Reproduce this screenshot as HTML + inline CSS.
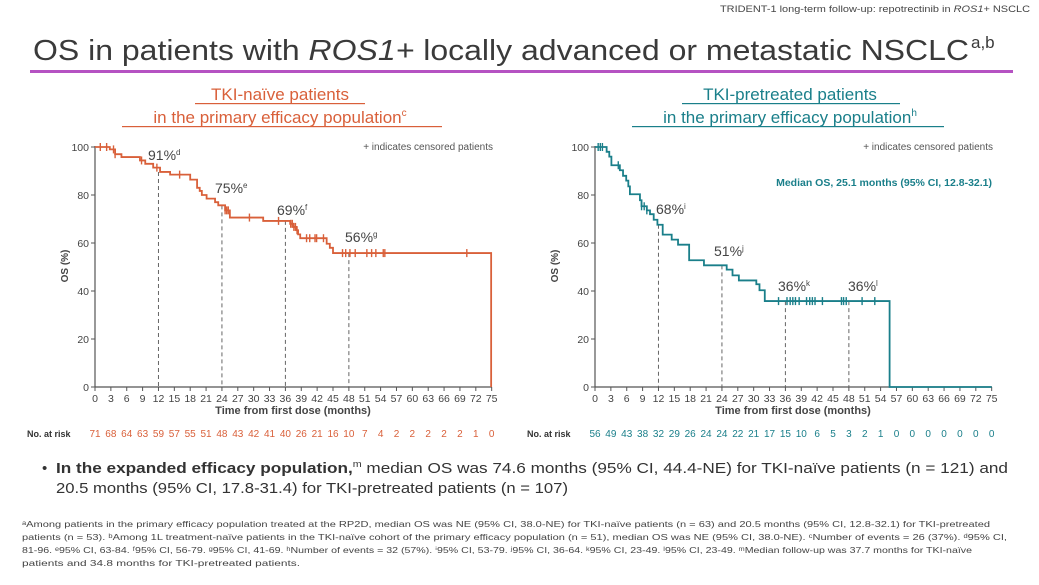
<!DOCTYPE html>
<html><head><meta charset="utf-8"><style>
html,body{margin:0;padding:0;background:#fff}
svg{display:block;font-family:"Liberation Sans","DejaVu Sans",sans-serif}
</style></head><body>
<svg width="1039" height="585" viewBox="0 0 1039 585" xmlns="http://www.w3.org/2000/svg">
<text x="1030" y="12" font-size="9" fill="#444" text-anchor="end" textLength="310" lengthAdjust="spacingAndGlyphs">TRIDENT-1 long-term follow-up: repotrectinib in <tspan font-style="italic">ROS1</tspan>+ NSCLC</text>
<text x="33" y="60" font-size="29" fill="#3a3a3a" textLength="936" lengthAdjust="spacingAndGlyphs">OS in patients with <tspan font-style="italic">ROS1+</tspan> locally advanced or metastatic NSCLC</text>
<text x="971" y="48" font-size="17" fill="#3a3a3a">a,b</text>
<rect x="30" y="70" width="983" height="3" fill="#b552c2"/>

<g fill="#d9603a" font-size="17" text-anchor="middle">
<text x="280" y="100">TKI-naïve patients</text>
<text x="280" y="123">in the primary efficacy population<tspan font-size="10" dy="-7">c</tspan></text>
</g>
<rect x="195" y="103" width="170" height="1.2" fill="#d9603a"/>
<rect x="122" y="126" width="320" height="1.2" fill="#d9603a"/>
<g fill="#1a7f8a" font-size="17" text-anchor="middle">
<text x="790" y="100">TKI-pretreated patients</text>
<text x="790" y="123">in the primary efficacy population<tspan font-size="10" dy="-7">h</tspan></text>
</g>
<rect x="682" y="103" width="218" height="1.2" fill="#1a7f8a"/>
<rect x="632" y="126" width="312" height="1.2" fill="#1a7f8a"/>

<!-- LEFT CHART -->
<g>
<line x1="95" y1="146" x2="95" y2="387" stroke="#555" stroke-width="1.2"/>
<line x1="95" y1="387" x2="492" y2="387" stroke="#555" stroke-width="1.2"/>
<g stroke="#555">
<line x1="91" y1="147" x2="95" y2="147"/><line x1="91" y1="195" x2="95" y2="195"/><line x1="91" y1="243" x2="95" y2="243"/><line x1="91" y1="291" x2="95" y2="291"/><line x1="91" y1="339" x2="95" y2="339"/><line x1="91" y1="387" x2="95" y2="387"/>
</g>
<g font-size="10.5" fill="#444" text-anchor="end">
<text x="89" y="151">100</text><text x="89" y="199">80</text><text x="89" y="247">60</text><text x="89" y="295">40</text><text x="89" y="343">20</text><text x="89" y="391">0</text>
</g>
<text transform="translate(68,266) rotate(-90)" font-size="10" fill="#444" text-anchor="middle" font-weight="bold">OS (%)</text>
<text x="293" y="414" font-size="11" fill="#444" text-anchor="middle" font-weight="bold">Time from first dose (months)</text>
<text x="493" y="150" font-size="10" fill="#555" text-anchor="end">+ indicates censored patients</text>
</g>

<!-- RIGHT CHART -->
<g>
<line x1="595" y1="146" x2="595" y2="387" stroke="#555" stroke-width="1.2"/>
<line x1="595" y1="387" x2="992" y2="387" stroke="#555" stroke-width="1.2"/>
<g stroke="#555">
<line x1="591" y1="147" x2="595" y2="147"/><line x1="591" y1="195" x2="595" y2="195"/><line x1="591" y1="243" x2="595" y2="243"/><line x1="591" y1="291" x2="595" y2="291"/><line x1="591" y1="339" x2="595" y2="339"/><line x1="591" y1="387" x2="595" y2="387"/>
</g>
<g font-size="10.5" fill="#444" text-anchor="end">
<text x="589" y="151">100</text><text x="589" y="199">80</text><text x="589" y="247">60</text><text x="589" y="295">40</text><text x="589" y="343">20</text><text x="589" y="391">0</text>
</g>
<text transform="translate(558,266) rotate(-90)" font-size="10" fill="#444" text-anchor="middle" font-weight="bold">OS (%)</text>
<text x="793" y="414" font-size="11" fill="#444" text-anchor="middle" font-weight="bold">Time from first dose (months)</text>
<text x="993" y="150" font-size="10" fill="#555" text-anchor="end">+ indicates censored patients</text>
<text x="992" y="186" font-size="10.5" fill="#1a7f8a" text-anchor="end" font-weight="bold">Median OS, 25.1 months (95% CI, 12.8-32.1)</text>
</g>

<g id="dyn"></g>

<g font-size="14" fill="#444">
<text x="148" y="160">91%<tspan font-size="8" dy="-5">d</tspan></text>
<text x="215" y="193">75%<tspan font-size="8" dy="-5">e</tspan></text>
<text x="277" y="215">69%<tspan font-size="8" dy="-5">f</tspan></text>
<text x="345" y="242">56%<tspan font-size="8" dy="-5">g</tspan></text>
<text x="656" y="214">68%<tspan font-size="8" dy="-5">i</tspan></text>
<text x="714" y="256">51%<tspan font-size="8" dy="-5">j</tspan></text>
<text x="778" y="291">36%<tspan font-size="8" dy="-5">k</tspan></text>
<text x="848" y="291">36%<tspan font-size="8" dy="-5">l</tspan></text>
</g>

<text x="27" y="437" font-size="9" fill="#333" font-weight="bold">No. at risk</text>
<text x="527" y="437" font-size="9" fill="#333" font-weight="bold">No. at risk</text>

<text x="42" y="473" font-size="15" fill="#333">•</text>
<text x="56" y="473" font-size="14.5" fill="#333" textLength="952" lengthAdjust="spacingAndGlyphs"><tspan font-weight="bold">In the expanded efficacy population,</tspan><tspan font-size="9" dy="-6">m</tspan><tspan dy="6"> median OS was 74.6 months (95% CI, 44.4-NE) for TKI-naïve patients (n = 121) and</tspan></text>
<text x="56" y="493" font-size="14.5" fill="#333" textLength="512" lengthAdjust="spacingAndGlyphs">20.5 months (95% CI, 17.8-31.4) for TKI-pretreated patients (n = 107)</text>

<g font-size="8.6" fill="#444">
<text x="22" y="527" textLength="968" lengthAdjust="spacingAndGlyphs">ᵃAmong patients in the primary efficacy population treated at the RP2D, median OS was NE (95% CI, 38.0-NE) for TKI-naïve patients (n = 63) and 20.5 months (95% CI, 12.8-32.1) for TKI-pretreated</text>
<text x="22" y="540" textLength="985" lengthAdjust="spacingAndGlyphs">patients (n = 53). ᵇAmong 1L treatment-naïve patients in the TKI-naïve cohort of the primary efficacy population (n = 51), median OS was NE (95% CI, 38.0-NE). ᶜNumber of events = 26 (37%). ᵈ95% CI,</text>
<text x="22" y="553" textLength="950" lengthAdjust="spacingAndGlyphs">81-96. ᵉ95% CI, 63-84. ᶠ95% CI, 56-79. ᵍ95% CI, 41-69. ʰNumber of events = 32 (57%). ⁱ95% CI, 53-79. ʲ95% CI, 36-64. ᵏ95% CI, 23-49. ˡ95% CI, 23-49. ᵐMedian follow-up was 37.7 months for TKI-naïve</text>
<text x="22" y="566" textLength="278" lengthAdjust="spacingAndGlyphs">patients and 34.8 months for TKI-pretreated patients.</text>
</g>
</svg>
<script>
(function(){
var NS="http://www.w3.org/2000/svg",g=document.getElementById('dyn');
function el(t,a,txt){var e=document.createElementNS(NS,t);for(var k in a)e.setAttribute(k,a[k]);if(txt!=null)e.textContent=txt;g.appendChild(e);return e;}
function Y(p){return 387-p*2.4;}
function chart(x0,col,steps,end,cens,risk,marks){
 var X=function(m){return x0+m*5.289;};
 for(var m=0;m<=75;m+=3){el('line',{x1:X(m),y1:387,x2:X(m),y2:391,stroke:'#555'});el('text',{x:X(m),y:402,'font-size':10.5,fill:'#444','text-anchor':'middle'},String(m));}
 marks.forEach(function(mk){el('line',{x1:X(mk[0]),y1:Y(mk[1]),x2:X(mk[0]),y2:387,stroke:'#666','stroke-dasharray':'4,3'});});
 var d='M'+X(0)+','+Y(100);
 steps.forEach(function(s){d+=' H'+X(s[0])+' V'+Y(s[1]);});
 d+=' H'+X(end[0])+' V'+Y(0);if(end[1])d+=' H'+X(75);
 el('path',{d:d,fill:'none',stroke:col,'stroke-width':1.8});
 function yAt(m){var p=100;for(var i=0;i<steps.length;i++){if(steps[i][0]<=m)p=steps[i][1];}return p;}
 cens.forEach(function(m){var y=Y(yAt(m));el('line',{x1:X(m),y1:y-4,x2:X(m),y2:y+4,stroke:col,'stroke-width':1.4});});
 risk.forEach(function(r,i){el('text',{x:X(i*3),y:437,'font-size':10,fill:col,'text-anchor':'middle'},String(r));});
}
chart(95,'#d9603a',
 [[2.8,99],[3.8,97],[5,95.8],[8.5,94.4],[9.5,93],[11,91.4],[12.3,89.6],[14.2,88.5],[18,86.4],[19.3,83],[19.8,81.7],[20.2,80],[21.1,78.5],[22.7,77],[23.3,75.7],[24.6,73.6],[25.5,70.6],[31.8,69.2],[36.9,68],[37.5,66.7],[38.1,65.3],[38.4,63.6],[38.8,62],[43.8,59.7],[44.4,58],[45,55.8]],
 [74.9,false],
 [1,2.2,3.5,3.8,8.8,11.7,16,24.6,24.9,25.2,29.2,34.7,37,37.3,37.6,37.9,38.2,40,40.6,41.6,41.9,43.2,46.8,47.4,48.2,49.2,51.4,52.3,53.1,54.5,54.8,70.3],
 [71,68,64,63,59,57,55,51,48,43,42,41,40,26,21,16,10,7,4,2,2,2,2,2,1,0],
 [[12,89.6],[24,75.7],[36,69.2],[48,55.8]]);
chart(595,'#1a7f8a',
 [[2.2,98],[2.7,96],[3.1,92.4],[4.7,90.3],[5.3,88],[5.9,86],[6.3,83.6],[6.6,80.3],[8.5,77.8],[8.8,75.3],[9.8,73.6],[10.4,72],[11.1,69.7],[11.8,67.6],[12.8,63.5],[14.5,61.4],[15.7,59.3],[17.8,52.8],[20.6,50.7],[24.9,48.9],[26,46.5],[27.2,44.4],[30.5,42.8],[31.1,40.3],[32.1,35.8]],
 [55.7,true],
 [0.6,1,1.4,4.4,8.8,9.3,9.8,34.7,36.3,36.9,37.4,37.9,38.6,40,40.6,41.1,41.6,43,46.6,47,47.5,50.5,52.9],
 [56,49,43,38,32,29,26,24,24,22,21,17,15,10,6,5,3,2,1,0,0,0,0,0,0,0],
 [[12,67.6],[24,50.7],[36,35.8],[48,35.8]]);
})();
</script>
</body></html>
